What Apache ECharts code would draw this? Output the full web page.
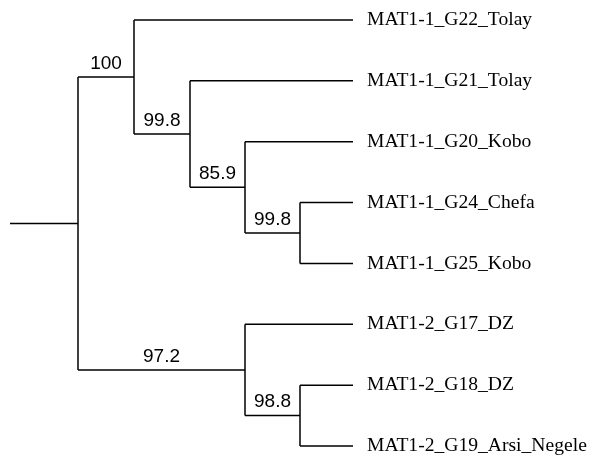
<!DOCTYPE html>
<html><head><meta charset="utf-8">
<script src="https://cdn.jsdelivr.net/npm/echarts@6/dist/echarts.min.js"></script>
<style>html,body{margin:0;padding:0;background:#fff}#c{width:589px;height:457px}</style>
</head><body><div id="c"></div>
<script>
// Leaves (top to bottom)
const leafNames = ['MAT1-1_G22_Tolay','MAT1-1_G21_Tolay','MAT1-1_G20_Kobo','MAT1-1_G24_Chefa','MAT1-1_G25_Kobo','MAT1-2_G17_DZ','MAT1-2_G18_DZ','MAT1-2_G19_Arsi_Negele'];
// Internal nodes
const nodeIds = ['root','n1','n2','n3','n4','n5','n6'];
const nodeDepth = [0.68, 1.24, 1.80, 2.35, 2.90, 2.35, 2.90];
const nodeSupport = ['', '100', '99.8', '85.9', '99.8', '97.2', '98.8'];
const nodeChildren = [['n1','n5'],['L0','n2'],['L1','n3'],['L2','n4'],['L3','L4'],['L5','n6'],['L6','L7']];
const stemStart = 0;
const leafDepth = 3.43;

// Build geometry in data units
const pos = {};
leafNames.forEach((n,i)=>{pos['L'+i]={x:leafDepth,y:i};});
function place(id){
  if(pos[id]) return pos[id];
  const k = nodeIds.indexOf(id);
  const ys = nodeChildren[k].map(c=>place(c).y);
  pos[id] = {x:nodeDepth[k], y:(Math.min(...ys)+Math.max(...ys))/2};
  return pos[id];
}
place('root');
const segs = [];
const supLabels = [];
segs.push([stemStart,pos.root.y,pos.root.x,pos.root.y]);
nodeIds.forEach((id,k)=>{
  const p = pos[id];
  const ys = nodeChildren[k].map(c=>pos[c].y);
  segs.push([p.x,Math.min(...ys),p.x,Math.max(...ys)]);
  nodeChildren[k].forEach(c=>{
    segs.push([p.x,pos[c].y,pos[c].x,pos[c].y]);
    const ck = nodeIds.indexOf(c);
    if(ck>=0 && nodeSupport[ck]) supLabels.push([(p.x+pos[c].x)/2,pos[c].y,nodeSupport[ck]]);
  });
});
const leafLabels = leafNames.map((n,i)=>[leafDepth,i,n]);

const chart = echarts.init(document.getElementById('c'));
chart.setOption({
  animation:false,
  grid:{left:10,right:236,top:20,bottom:11},
  xAxis:{type:'value',min:0,max:leafDepth,show:false},
  yAxis:{type:'value',min:0,max:leafNames.length-1,inverse:true,show:false},
  series:[
    {type:'custom',data:segs,renderItem:(params,api)=>{
      const a=api.coord([api.value(0),api.value(1)]), b=api.coord([api.value(2),api.value(3)]);
      return {type:'line',shape:{x1:a[0],y1:a[1],x2:b[0],y2:b[1]},style:{stroke:'#000',lineWidth:1.5}};
    }},
    {type:'custom',data:supLabels,renderItem:(params,api)=>{
      const a=api.coord([api.value(0),api.value(1)]);
      return {type:'text',x:a[0],y:a[1]-4,style:{text:supLabels[params.dataIndex][2],fill:'#000',font:'19px "Liberation Sans", Arial, sans-serif',align:'center',verticalAlign:'bottom'}};
    }},
    {type:'custom',data:leafLabels,renderItem:(params,api)=>{
      const a=api.coord([api.value(0),api.value(1)]);
      return {type:'text',x:a[0]+14,y:a[1],style:{text:leafNames[params.dataIndex],fill:'#000',font:'19.6px "Liberation Serif", "Times New Roman", serif',align:'left',verticalAlign:'middle'}};
    }}
  ]
});
</script></body></html>
